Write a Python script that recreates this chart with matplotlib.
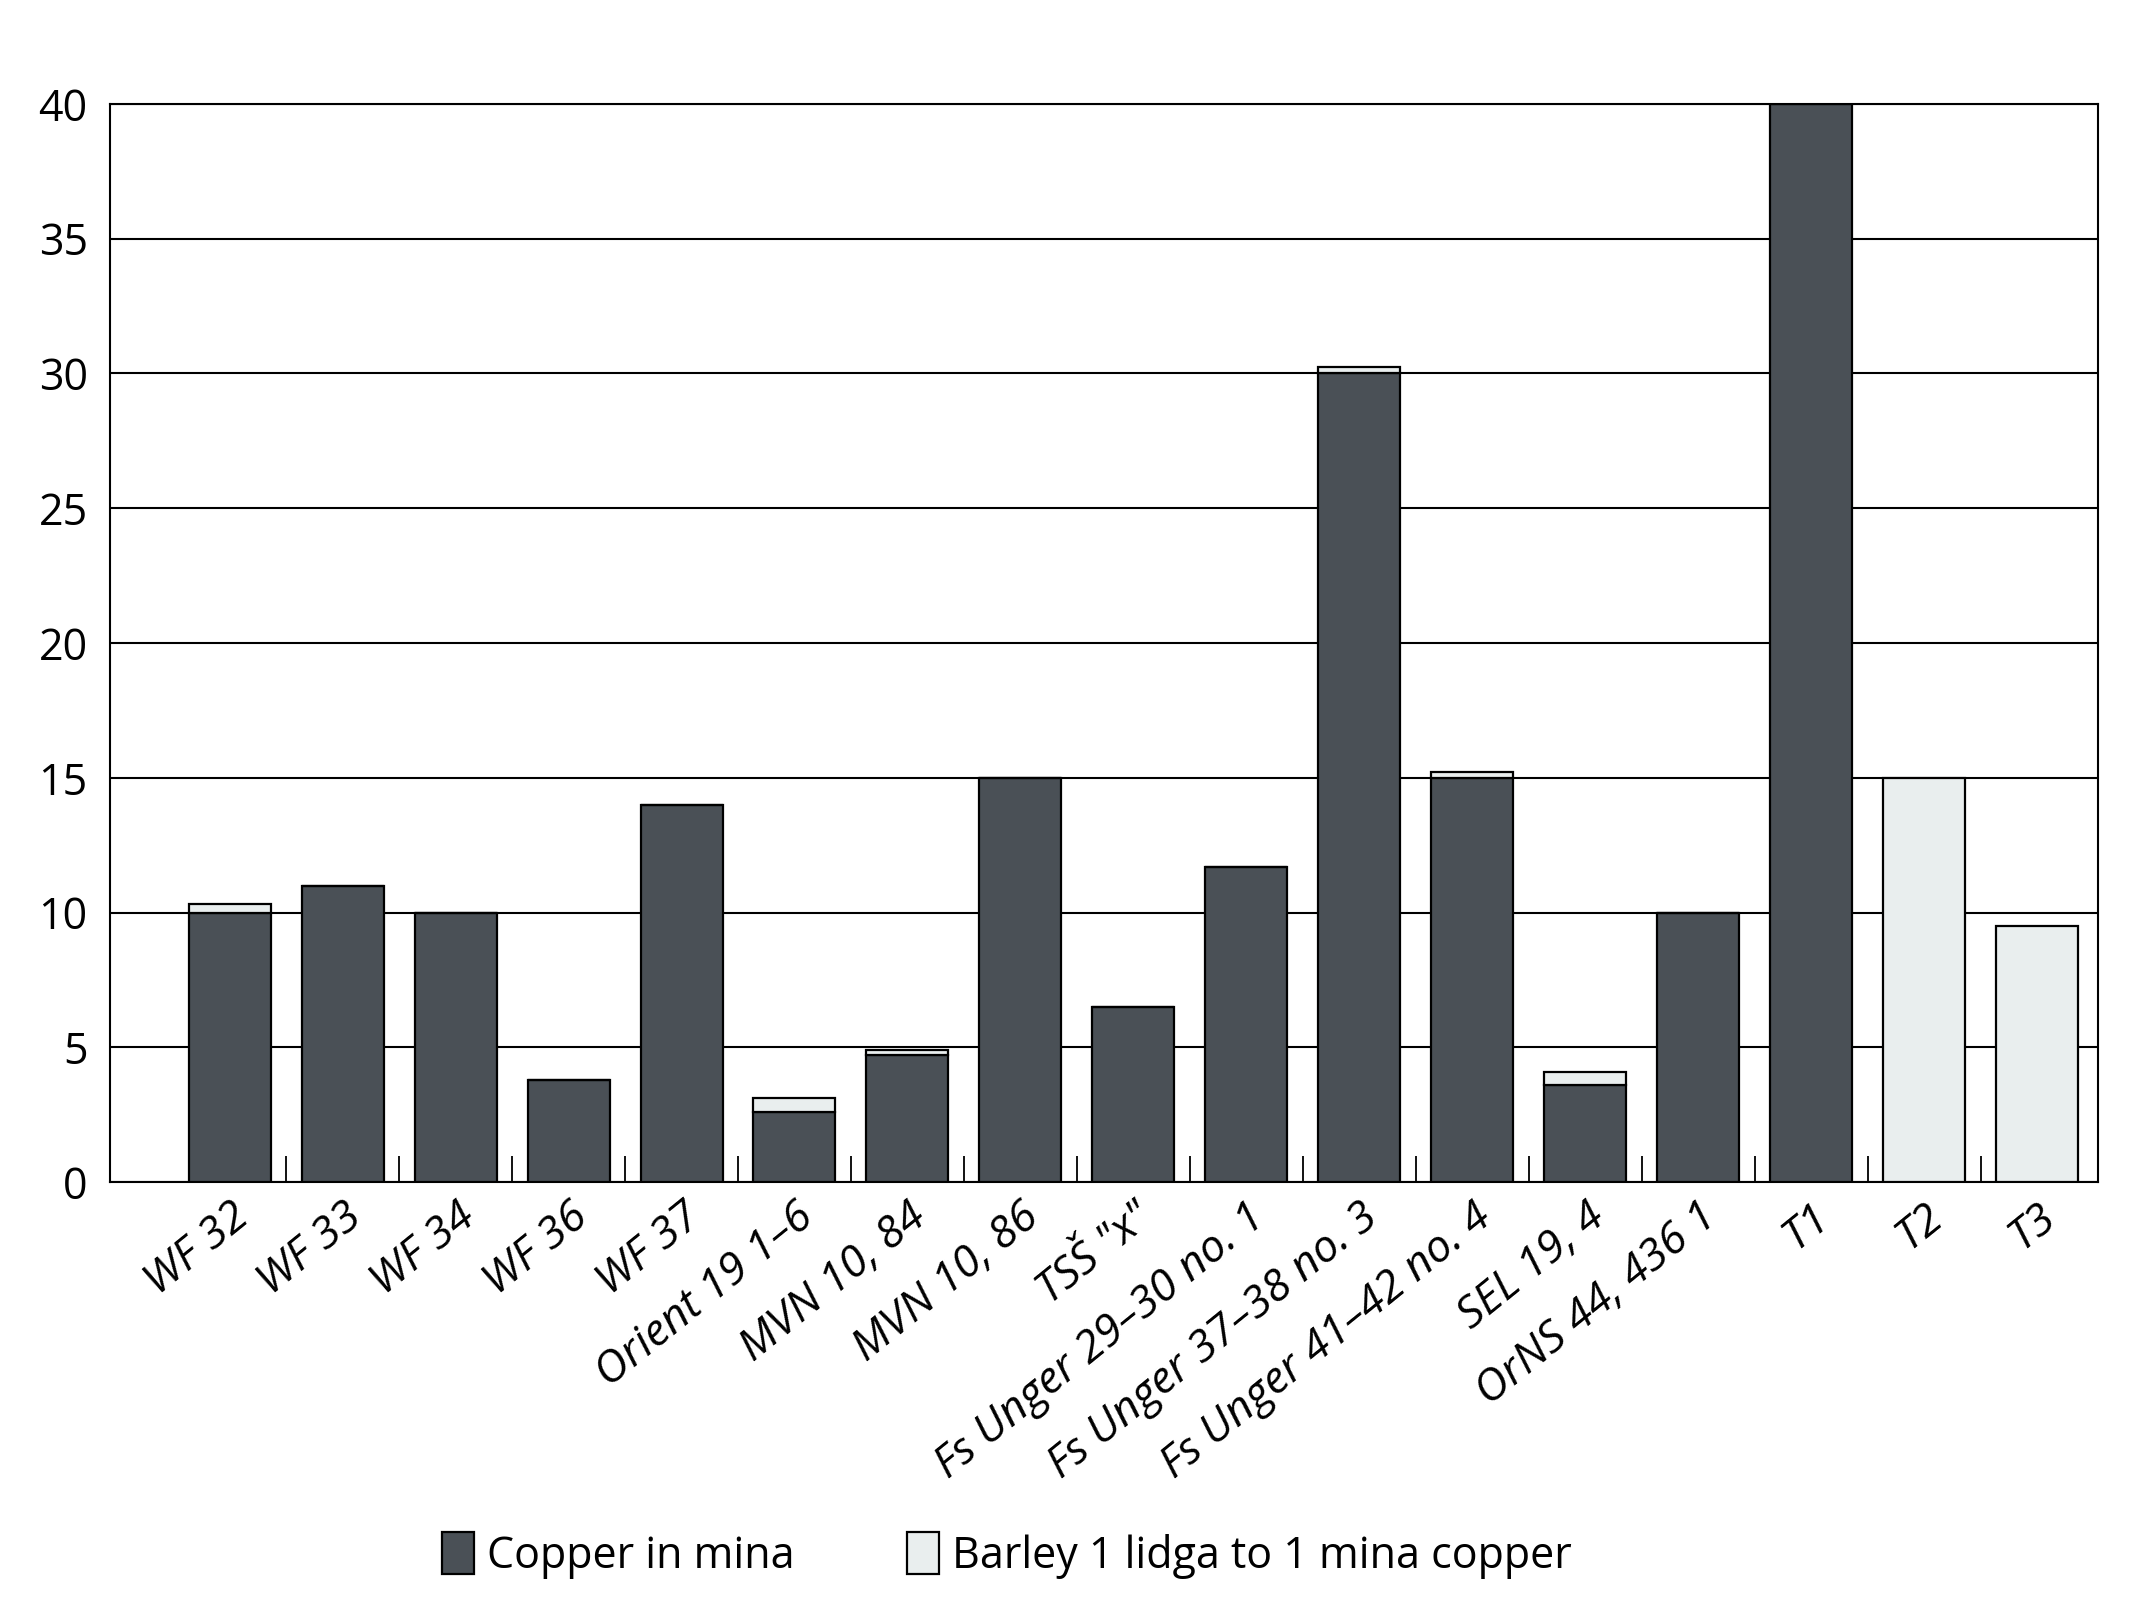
import numpy as np
import matplotlib
matplotlib.use('Agg')
import matplotlib.pyplot as plt

plt.rcParams['font.family'] = ['Open Sans', 'DejaVu Sans']

# data
labels = ['WF 32', 'WF 33', 'WF 34', 'WF 36', 'WF 37', 'Orient 19 1–6',
          'MVN 10, 84', 'MVN 10, 86', 'TSŠ "x"', 'Fs Unger 29–30 no. 1',
          'Fs Unger 37–38 no. 3', 'Fs Unger 41–42 no. 4', 'SEL 19, 4',
          'OrNS 44, 436 1', 'T1', 'T2', 'T3']
copper = [10, 11, 10, 3.8, 14, 2.6, 4.7, 15, 6.5, 11.7, 30, 15, 3.6, 10, 40, 0, 0]
barley = [0.3, 0, 0, 0, 0, 0.5, 0.2, 0, 0, 0, 0.25, 0.2, 0.5, 0, 0, 15, 9.5]
yticks = [0, 5, 10, 15, 20, 25, 30, 35, 40]

dark = '#4a5056'
light = '#e9eeee'

fig = plt.figure(figsize=(21.51, 16.17), dpi=100)
ax = fig.add_axes([0.0511, 0.269, 0.9243, 0.6667])

x = np.arange(len(labels))
w = 0.726
ax.bar(x, copper, w, color=dark, edgecolor='black', linewidth=1.6,
       label='Copper in mina', zorder=3)
ax.bar(x, barley, w, bottom=copper, color=light, edgecolor='black',
       linewidth=1.6, label='Barley 1 lidga to 1 mina copper', zorder=3)

ax.set_xlim(-1.06, 16.54)
ax.set_ylim(0, 40)
ax.set_yticks(yticks)
ax.yaxis.grid(True, color='black', linewidth=1.5)
ax.set_axisbelow(True)
for s in ax.spines.values():
    s.set_color('black')
    s.set_linewidth(1.5)

ax.tick_params(axis='y', length=0, pad=16, labelsize=31)
ax.set_xticks(x)
ax.set_xticklabels(labels, rotation=39, ha='right', va='top',
                   rotation_mode='anchor', fontstyle='italic', fontsize=32)
ax.tick_params(axis='x', which='major', length=0, pad=9)
ax.set_xticks(np.arange(0.5, 15.6, 1), minor=True)
ax.tick_params(axis='x', which='minor', direction='in', length=19,
               width=1.3, color='black')

fig.legend(loc='center', bbox_to_anchor=(0.468, 0.038), ncol=2,
           frameon=False, fontsize=31, handlelength=0.75, handleheight=1.1,
           handletextpad=0.3, columnspacing=2.6)

fig.savefig('out.png', dpi=100)
